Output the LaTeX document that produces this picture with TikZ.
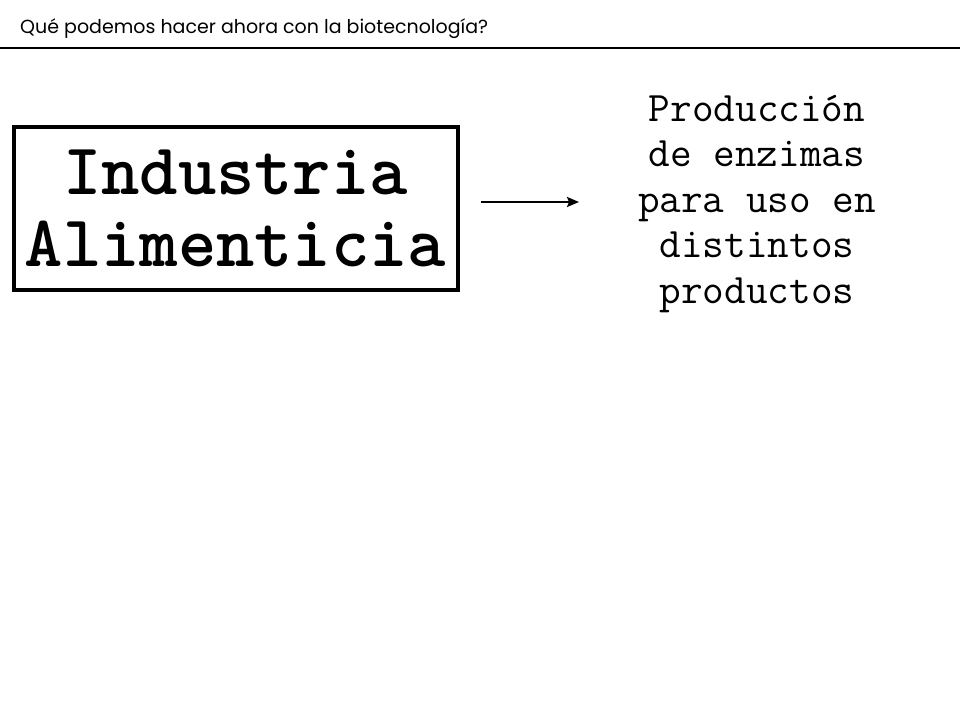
\documentclass[tikz,border=0pt]{standalone}
\usepackage{fontspec}
\newfontfamily\titlefont{Poppins}
\usetikzlibrary{positioning}
\usetikzlibrary{arrows.meta}

\begin{document}
\begin{tikzpicture}
[
x=1pt, y=-1pt,
>={Stealth[length=12pt, width=10pt, inset=2pt]},
title/.style={anchor=base west, inner sep=0pt, font=\titlefont\fontsize{19}{22}\selectfont},
bigbox/.style={draw, line width=4pt, minimum width=444pt, minimum height=163pt, align=center, inner sep=0pt, font=\ttfamily\bfseries\fontsize{73}{72}\selectfont},
texts/.style={align=center, inner sep=0pt, font=\ttfamily\fontsize{42}{45.5}\selectfont},
]
\useasboundingbox (0,0) rectangle (960,720);

\node (title) [title] at (20,33) {Qué podemos hacer ahora con la biotecnología?};
\coordinate (ruleL) at (0,48);
\coordinate (ruleR) at (960,48);
\draw [line width=2.5pt] (ruleL) -- (ruleR);

\node (industria) [bigbox] at (235.5,208.5) {Industria\\Alimenticia};

\coordinate (from) at (481,202);
\coordinate (to) at (579,202);
\node (enzimas) [texts] at (757,204) {Producción\\de enzimas\\para uso en\\distintos\\productos};

\draw [->, line width=2pt] (from) -- (to);
\end{tikzpicture}
\end{document}
